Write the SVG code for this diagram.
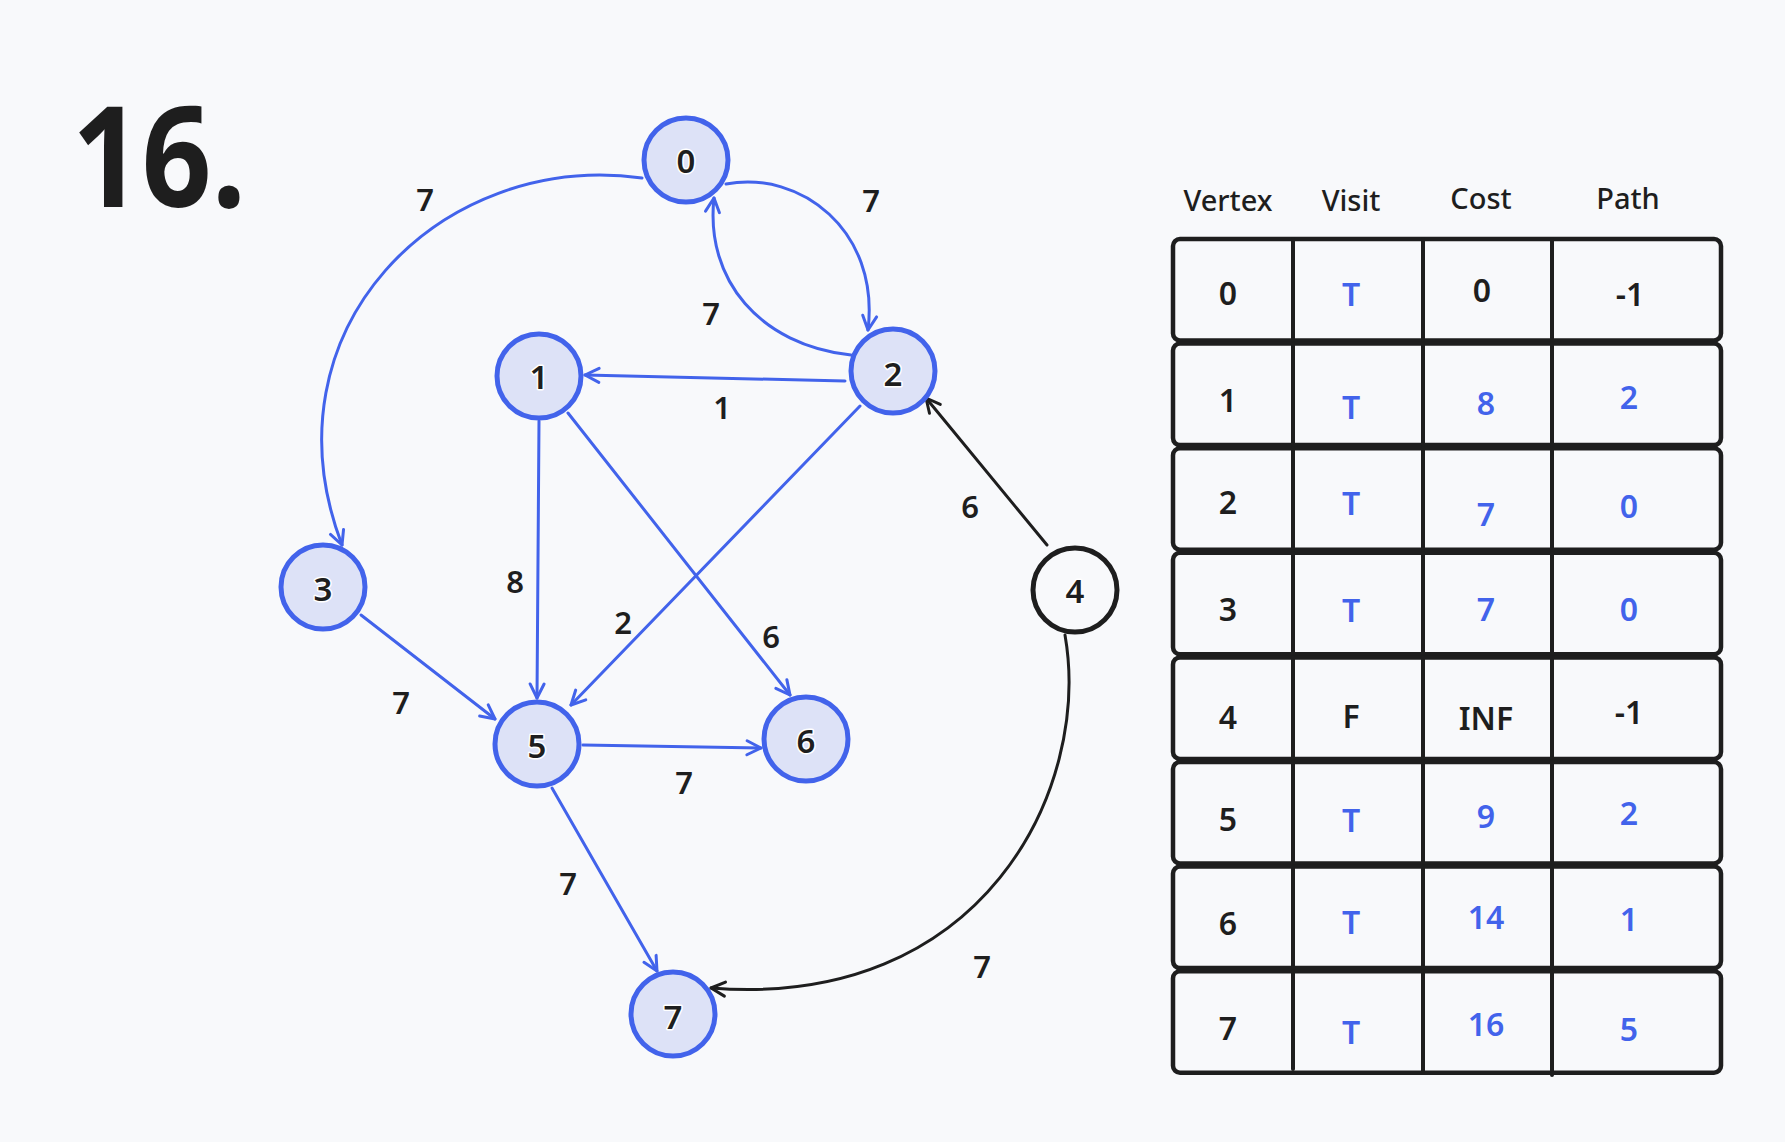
<svg xmlns="http://www.w3.org/2000/svg" width="1785" height="1142" viewBox="0 0 1785 1142">
<style>
.bg{fill:#f8f9fb}
.node circle{fill:#dde2f7;stroke:#4263eb;stroke-width:5}
.node.unvisited circle{fill:none;stroke:#1e1e1e}
.nl{font-family:"Noto Sans","Liberation Sans",sans-serif;font-size:33px;font-weight:600;fill:#1e1e1e;text-anchor:middle;dominant-baseline:central;paint-order:stroke;stroke:#ffffff;stroke-width:3px;stroke-linejoin:round}
.e{fill:none;stroke:#4263eb;stroke-width:3;stroke-linecap:round}
.e.k{stroke:#1e1e1e}
.el{font-family:"Noto Sans","Liberation Sans",sans-serif;font-size:31px;font-weight:600;fill:#1e1e1e;text-anchor:middle;dominant-baseline:central}
.row{fill:none;stroke:#1e1e1e;stroke-width:4.5}
.div{stroke:#1e1e1e;stroke-width:4;stroke-linecap:round}
.hd{font-family:"Noto Sans","Liberation Sans",sans-serif;font-size:29px;font-weight:500;fill:#1e1e1e;text-anchor:middle}
.c{font-family:"Noto Sans","Liberation Sans",sans-serif;font-size:32px;font-weight:600;fill:#1e1e1e;text-anchor:middle;dominant-baseline:central}
.c.b{fill:#4263eb}
.title{font-family:"Noto Sans","Liberation Sans",sans-serif;font-size:140px;font-weight:bold;fill:#1e1e1e}
</style>
<defs>
<marker id="ab" viewBox="0 0 20 20" refX="17" refY="10" markerWidth="20" markerHeight="20" markerUnits="userSpaceOnUse" orient="auto">
<path d="M3,3 L17,10 L3,17" fill="none" stroke="#4263eb" stroke-width="3" stroke-linecap="round" stroke-linejoin="round"/>
</marker>
<marker id="ak" viewBox="0 0 20 20" refX="17" refY="10" markerWidth="20" markerHeight="20" markerUnits="userSpaceOnUse" orient="auto">
<path d="M3,3 L17,10 L3,17" fill="none" stroke="#1e1e1e" stroke-width="3" stroke-linecap="round" stroke-linejoin="round"/>
</marker>
</defs>
<rect class="bg" x="0" y="0" width="1785" height="1142"/>
<text class="title" x="72" y="207" textLength="174" lengthAdjust="spacingAndGlyphs">16.</text>

<g id="connectors">
<path class="e" d="M642 178 C440 150 260 330 342 545" marker-end="url(#ab)"/>
<path class="e" d="M726 184 C800 170 880 230 868 330" marker-end="url(#ab)"/>
<path class="e" d="M851 355 C760 345 705 280 714 198" marker-end="url(#ab)"/>
<path class="e" d="M845 381 L585 375" marker-end="url(#ab)"/>
<path class="e" d="M860 406 L571 705" marker-end="url(#ab)"/>
<path class="e" d="M539 421 L537 698" marker-end="url(#ab)"/>
<path class="e" d="M568 413 L790 695" marker-end="url(#ab)"/>
<path class="e" d="M361 615 L495 719" marker-end="url(#ab)"/>
<path class="e" d="M583 745 L761 748" marker-end="url(#ab)"/>
<path class="e" d="M552 788 L657 971" marker-end="url(#ab)"/>
<path class="e k" d="M1047 545 L926 398" marker-end="url(#ak)"/>
<path class="e k" d="M1065 635 C1092 790 982 1010 711 988" marker-end="url(#ak)"/>
<text class="el" x="425" y="199">7</text>
<text class="el" x="871" y="200">7</text>
<text class="el" x="711" y="313">7</text>
<text class="el" x="722" y="407">1</text>
<text class="el" x="970" y="506">6</text>
<text class="el" x="515" y="581">8</text>
<text class="el" x="623" y="622">2</text>
<text class="el" x="771" y="636">6</text>
<text class="el" x="401" y="702">7</text>
<text class="el" x="684" y="782">7</text>
<text class="el" x="568" y="883">7</text>
<text class="el" x="982" y="966">7</text>
</g>

<g id="node-0" class="node"><circle cx="686" cy="160" r="42"/><text class="nl" x="686" y="160">0</text></g>
<g id="node-1" class="node"><circle cx="539" cy="376" r="42"/><text class="nl" x="539" y="376">1</text></g>
<g id="node-2" class="node"><circle cx="893" cy="371" r="42"/><text class="nl" x="893" y="373">2</text></g>
<g id="node-3" class="node"><circle cx="323" cy="587" r="42"/><text class="nl" x="323" y="588">3</text></g>
<g id="node-4" class="node unvisited"><circle cx="1075" cy="590" r="42"/><text class="nl" x="1075" y="590">4</text></g>
<g id="node-5" class="node"><circle cx="537" cy="744" r="42"/><text class="nl" x="537" y="745">5</text></g>
<g id="node-6" class="node"><circle cx="806" cy="739" r="42"/><text class="nl" x="806" y="740">6</text></g>
<g id="node-7" class="node"><circle cx="673" cy="1014" r="42"/><text class="nl" x="673" y="1016">7</text></g>

<g id="table">
<text class="hd" x="1228" y="211">Vertex</text>
<text class="hd" x="1351" y="211">Visit</text>
<text class="hd" x="1481" y="209">Cost</text>
<text class="hd" x="1628" y="209">Path</text>
<g id="row-0">
<rect class="row" x="1173" y="239" width="548" height="101.5" rx="7"/>
<line class="div" x1="1293" y1="239" x2="1293" y2="341"/><line class="div" x1="1423" y1="239" x2="1423" y2="340"/><line class="div" x1="1552" y1="239" x2="1552" y2="340"/>
<text class="c" x="1228" y="292">0</text><text class="c b" x="1351" y="293">T</text><text class="c" x="1482" y="289">0</text><text class="c" x="1630" y="293">-1</text>
</g>
<g id="row-1">
<rect class="row" x="1173" y="343.6" width="548" height="101.5" rx="7"/>
<line class="div" x1="1293" y1="344" x2="1293" y2="446"/><line class="div" x1="1423" y1="344" x2="1423" y2="445"/><line class="div" x1="1552" y1="344" x2="1552" y2="445"/>
<text class="c" x="1228" y="399">1</text><text class="c b" x="1351" y="406">T</text><text class="c b" x="1486" y="402">8</text><text class="c b" x="1629" y="396">2</text>
</g>
<g id="row-2">
<rect class="row" x="1173" y="448.2" width="548" height="101.5" rx="7"/>
<line class="div" x1="1293" y1="448" x2="1293" y2="551"/><line class="div" x1="1423" y1="448" x2="1423" y2="550"/><line class="div" x1="1552" y1="448" x2="1552" y2="550"/>
<text class="c" x="1228" y="501">2</text><text class="c b" x="1351" y="502">T</text><text class="c b" x="1486" y="513">7</text><text class="c b" x="1629" y="505">0</text>
</g>
<g id="row-3">
<rect class="row" x="1173" y="552.8" width="548" height="101.5" rx="7"/>
<line class="div" x1="1293" y1="553" x2="1293" y2="655"/><line class="div" x1="1423" y1="553" x2="1423" y2="654"/><line class="div" x1="1552" y1="553" x2="1552" y2="654"/>
<text class="c" x="1228" y="608">3</text><text class="c b" x="1351" y="609">T</text><text class="c b" x="1486" y="608">7</text><text class="c b" x="1629" y="608">0</text>
</g>
<g id="row-4">
<rect class="row" x="1173" y="657.4" width="548" height="101.5" rx="7"/>
<line class="div" x1="1293" y1="657" x2="1293" y2="760"/><line class="div" x1="1423" y1="657" x2="1423" y2="759"/><line class="div" x1="1552" y1="657" x2="1552" y2="759"/>
<text class="c" x="1228" y="716">4</text><text class="c" x="1351" y="715">F</text><text class="c" x="1486" y="717">INF</text><text class="c" x="1629" y="711">-1</text>
</g>
<g id="row-5">
<rect class="row" x="1173" y="762" width="548" height="101.5" rx="7"/>
<line class="div" x1="1293" y1="762" x2="1293" y2="864"/><line class="div" x1="1423" y1="762" x2="1423" y2="863"/><line class="div" x1="1552" y1="762" x2="1552" y2="863"/>
<text class="c" x="1228" y="818">5</text><text class="c b" x="1351" y="819">T</text><text class="c b" x="1486" y="815">9</text><text class="c b" x="1629" y="812">2</text>
</g>
<g id="row-6">
<rect class="row" x="1173" y="866.6" width="548" height="101.5" rx="7"/>
<line class="div" x1="1293" y1="867" x2="1293" y2="969"/><line class="div" x1="1423" y1="867" x2="1423" y2="968"/><line class="div" x1="1552" y1="867" x2="1552" y2="968"/>
<text class="c" x="1228" y="922">6</text><text class="c b" x="1351" y="921">T</text><text class="c b" x="1486" y="916">14</text><text class="c b" x="1629" y="918">1</text>
</g>
<g id="row-7">
<rect class="row" x="1173" y="971.2" width="548" height="101.5" rx="7"/>
<line class="div" x1="1293" y1="971" x2="1293" y2="1069"/><line class="div" x1="1423" y1="971" x2="1423" y2="1072"/><line class="div" x1="1552" y1="971" x2="1552" y2="1075"/>
<text class="c" x="1228" y="1027">7</text><text class="c b" x="1351" y="1031">T</text><text class="c b" x="1486" y="1023">16</text><text class="c b" x="1629" y="1028">5</text>
</g>
</g>
</svg>
